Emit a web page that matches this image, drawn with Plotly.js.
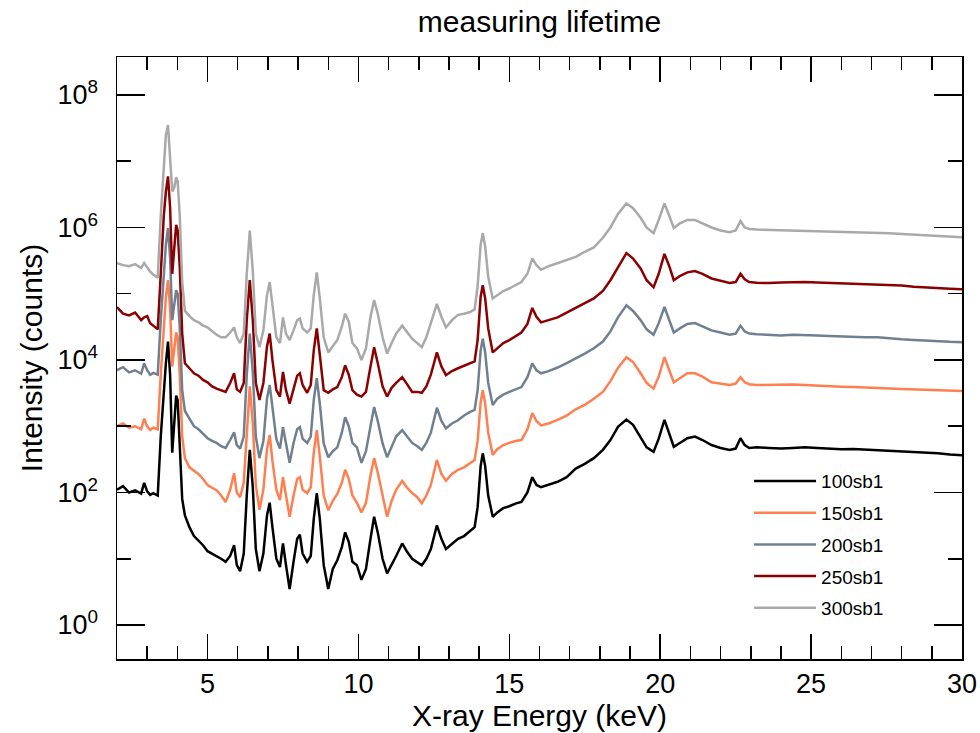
<!DOCTYPE html>
<html>
<head>
<meta charset="utf-8">
<script src="https://cdn.plot.ly/plotly-3.0.1.min.js"></script>
<style>html,body{margin:0;padding:0;background:#fff;}#chart{width:980px;height:733px;}</style>
</head>
<body>
<div id="chart"></div>
<script>
// X-ray energy grid (keV)
const energy = [
  2.0, 2.2, 2.4, 2.6, 2.8, 2.9, 3.0, 3.1, 3.2, 3.35,
  3.45, 3.55, 3.62, 3.69, 3.76, 3.83, 3.9, 3.96, 4.01, 4.08,
  4.16, 4.25, 4.4, 4.55, 4.7, 4.85, 5.0, 5.15, 5.3, 5.45,
  5.6, 5.75, 5.88, 5.97, 6.08, 6.2, 6.3, 6.4, 6.5, 6.6,
  6.72, 6.85, 6.97, 7.06, 7.15, 7.28, 7.4, 7.5, 7.6, 7.72,
  7.85, 7.97, 8.06, 8.15, 8.3, 8.42, 8.52, 8.62, 8.72, 8.85,
  9.0, 9.15, 9.3, 9.45, 9.56, 9.68, 9.8, 9.95, 10.1, 10.25,
  10.4, 10.52, 10.64, 10.8, 10.95, 11.1, 11.25, 11.45, 11.6, 11.78,
  11.95, 12.1, 12.25, 12.4, 12.6, 12.75, 12.9, 13.1, 13.3, 13.5,
  13.7, 13.85, 13.95, 14.05, 14.12, 14.2, 14.3, 14.45, 14.6, 14.8,
  15.0, 15.2, 15.4, 15.6, 15.76, 15.9, 16.05, 16.3, 16.6, 16.9,
  17.2, 17.5, 17.8, 18.1, 18.35, 18.6, 18.88, 19.1, 19.35, 19.55,
  19.78, 19.95, 20.14, 20.3, 20.45, 20.65, 20.9, 21.15, 21.4, 21.7,
  22.0, 22.3, 22.5, 22.66, 22.8, 22.95, 23.2, 23.6, 24.0, 24.4,
  24.8, 25.2, 25.6, 26.0, 26.4, 26.8, 27.2, 27.6, 28.0, 28.4,
  28.8, 29.2, 29.6, 30.0
];

// Intensity (counts) per series
const s100 = [
  110, 125, 100, 108, 96, 140, 104, 92, 98, 90,
  700, 3500, 9000, 19000, 6000, 400, 1200, 2900, 2500, 600,
  80, 45, 30, 22, 19, 16, 13, 12, 11, 10,
  9, 11, 16, 8, 6.5, 12, 90, 440, 120, 14,
  6.5, 12, 45, 70, 30, 10, 7.5, 17, 8, 3.5,
  9, 20, 23, 12, 9, 11, 40, 98, 40, 8,
  3.5, 7, 9.5, 15, 25, 18, 9, 8, 4.8, 7,
  20, 43, 25, 10, 6, 8, 11, 17, 13, 10,
  9, 8, 10, 14, 32, 20, 14, 17, 20, 22,
  26, 30, 60, 250, 390, 250, 90, 43, 50, 58,
  62, 68, 72, 100, 170, 130, 120, 130, 145, 170,
  230, 270, 330, 440, 620, 980, 1260, 1050, 660, 480,
  410, 650, 1250, 800, 490, 560, 660, 700, 620, 520,
  470, 440, 460, 660, 520, 470, 480, 470, 460, 470,
  480, 470, 460, 450, 455, 445, 440, 430, 420, 410,
  400, 390, 375, 365
];
const s150 = [
  1000, 1100, 950, 1000, 900, 1300, 1000, 880, 950, 900,
  6000, 35000, 90000, 160000, 60000, 8000, 15000, 26000, 22000, 6000,
  700, 330, 240, 210, 190, 160, 130, 118, 108, 90,
  72, 110, 195, 100, 85, 140, 900, 4000, 1100, 130,
  55, 110, 450, 740, 300, 110, 77, 170, 90, 43,
  90, 160, 170, 110, 98, 120, 400, 870, 350, 90,
  54, 75, 95, 140, 220, 160, 90, 70, 50, 70,
  180, 330, 200, 90, 43, 75, 110, 150, 120, 98,
  85, 69, 90, 130, 310, 190, 150, 190, 220, 240,
  280, 310, 600, 2300, 3500, 2200, 800, 370, 450, 520,
  560, 600, 620, 900, 1580, 1200, 1030, 1100, 1250, 1450,
  1800, 2100, 2600, 3300, 4800, 7600, 11000, 9300, 6300, 4500,
  3700, 5600, 11000, 7000, 4600, 5300, 6300, 6300, 5600, 4600,
  4400, 4200, 4400, 5500, 4600, 4300, 4200, 4250, 4200, 4250,
  4200, 4150, 4050, 3950, 3900, 3800, 3700, 3700, 3650, 3600,
  3550, 3500, 3450, 3400
];
const s200 = [
  7000, 7800, 6500, 7000, 6200, 8900, 7000, 6000, 6400, 6000,
  40000, 200000, 550000, 980000, 350000, 40000, 70000, 113000, 100000, 30000,
  3500, 1700, 1300, 1000, 900, 760, 660, 600, 560, 500,
  470, 620, 810, 520, 460, 700, 6000, 25000, 6500, 700,
  330, 600, 2600, 4200, 1800, 640, 460, 970, 550, 280,
  560, 900, 970, 650, 560, 700, 2500, 5300, 2200, 550,
  340, 420, 480, 800, 1370, 1000, 560, 480, 280, 420,
  1000, 1950, 1200, 550, 340, 500, 700, 870, 700, 560,
  500, 440, 560, 800, 1900, 1200, 930, 1100, 1230, 1450,
  1650, 1770, 3500, 14000, 21000, 13000, 4500, 2100, 2600, 3000,
  3300, 3600, 3900, 5500, 8900, 7000, 6300, 6800, 7700, 9000,
  10500, 12500, 15000, 19000, 27000, 44000, 67000, 55000, 40000, 29000,
  24000, 36000, 63000, 40000, 26000, 30000, 35000, 36000, 32000, 28000,
  26000, 24000, 25000, 33000, 27000, 25000, 24500, 24000, 23500, 24000,
  24000, 23500, 23000, 22500, 22500, 22000, 22000, 21000, 20500, 20000,
  19500, 19000, 18800, 18600
];
const s250 = [
  63000, 50000, 47000, 52000, 40000, 44000, 46000, 36000, 33000, 29000,
  200000, 1500000, 3500000, 5900000, 2000000, 200000, 500000, 1100000, 900000, 250000,
  25000, 8900, 7500, 6300, 5800, 5000, 4600, 4000, 3700, 3500,
  3300, 4500, 6300, 3600, 3300, 4500, 40000, 160000, 40000, 4500,
  2500, 4500, 16000, 25000, 10000, 3500, 2800, 6600, 3500, 2200,
  3500, 5800, 6300, 4200, 3200, 4200, 14000, 30000, 12000, 3500,
  3200, 3600, 3900, 5500, 8300, 6000, 3500, 3000, 2800, 3300,
  8000, 15600, 9000, 4000, 2800, 3800, 4500, 5500, 4400, 3300,
  3300, 3200, 4000, 6000, 13000, 8000, 5900, 6800, 7500, 8200,
  8900, 9500, 20000, 90000, 134000, 85000, 30000, 13000, 15000, 18000,
  20000, 23000, 26000, 35000, 61000, 45000, 37000, 40000, 44000, 52000,
  61000, 72000, 85000, 110000, 160000, 250000, 410000, 340000, 240000, 160000,
  125000, 200000, 400000, 260000, 160000, 185000, 210000, 220000, 200000, 170000,
  155000, 145000, 150000, 200000, 165000, 150000, 146000, 145000, 148000, 150000,
  150000, 148000, 146000, 145000, 143000, 141000, 140000, 137000, 133000, 128000,
  124000, 121000, 119000, 117000
];
const s300 = [
  290000, 270000, 260000, 280000, 245000, 290000, 250000, 215000, 195000, 175000,
  1500000, 10000000, 25000000, 35000000, 12000000, 3500000, 4000000, 5700000, 5000000, 1500000,
  150000, 55000, 46000, 40000, 37000, 33000, 31000, 27000, 24000, 22000,
  22000, 26000, 31000, 22000, 18000, 25000, 200000, 900000, 220000, 25000,
  15600, 28000, 95000, 150000, 65000, 22000, 18000, 44000, 25000, 20000,
  28000, 40000, 42000, 30000, 26000, 30000, 95000, 210000, 85000, 22000,
  13000, 16000, 20000, 32000, 50000, 38000, 18000, 15000, 10000, 15000,
  45000, 80000, 50000, 22000, 12500, 18000, 25000, 33000, 27000, 21000,
  18000, 15600, 22000, 35000, 70000, 45000, 31000, 40000, 48000, 50000,
  53000, 58000, 130000, 550000, 820000, 520000, 180000, 85000, 95000, 110000,
  120000, 135000, 150000, 200000, 340000, 270000, 230000, 260000, 290000, 320000,
  360000, 430000, 500000, 700000, 1000000, 1600000, 2300000, 1950000, 1400000, 1000000,
  820000, 1300000, 2300000, 1500000, 980000, 1150000, 1300000, 1300000, 1150000, 1000000,
  900000, 850000, 900000, 1250000, 1000000, 950000, 930000, 920000, 910000, 900000,
  900000, 890000, 880000, 870000, 860000, 850000, 840000, 820000, 800000, 780000,
  760000, 740000, 720000, 710000
];

const seriesNames = ['100sb1', '150sb1', '200sb1', '250sb1', '300sb1'];
const seriesColors = ['#000000', '#FF7F50', '#708090', '#8B0000', '#A9A9A9'];
const seriesValues = [s100, s150, s200, s250, s300];

const yTickVals = [1, 1e2, 1e4, 1e6, 1e8];
const yTickText = ['10<sup>0</sup>', '10<sup>2</sup>', '10<sup>4</sup>', '10<sup>6</sup>', '10<sup>8</sup>'];
const yMinorVals = [10, 1e3, 1e5, 1e7];
const xTickVals = [5, 10, 15, 20, 25, 30];

const traces = seriesValues.map((vals, i) => ({
  x: energy, y: vals, type: 'scatter', mode: 'lines',
  name: seriesNames[i], legendgroup: 'g' + i,
  line: {color: seriesColors[i], width: 2.5}
}));

const FONT = 'Liberation Sans, Arial, Helvetica, sans-serif';
const layout = {
  width: 980, height: 733,
  margin: {l: 117, r: 18, t: 57, b: 74},
  paper_bgcolor: '#ffffff', plot_bgcolor: '#ffffff',
  font: {family: FONT, color: '#000', size: 22},
  title: {text: 'measuring lifetime', x: 0.5, xref: 'paper', xanchor: 'center',
          y: 0.970, yref: 'container', yanchor: 'middle', font: {family: FONT, size: 30}},
  showlegend: true,
  legend: {x: 0.748, y: 0.327, xanchor: 'left', yanchor: 'top', font: {family: FONT, size: 19},
           itemwidth: 62, bgcolor: 'rgba(0,0,0,0)', tracegroupgap: 4, traceorder: 'grouped'},
  xaxis: {
    range: [2, 30], showgrid: false, zeroline: false,
    showline: true, linecolor: '#000', linewidth: 1.5, mirror: 'ticks',
    ticks: 'inside', ticklen: 25, tickwidth: 1.5, tickcolor: '#000',
    tickmode: 'array', tickvals: xTickVals,
    tickfont: {family: FONT, size: 27},
    minor: {ticks: 'inside', ticklen: 13, dtick: 1, tick0: 0, tickwidth: 1.5, tickcolor: '#000', showgrid: false},
    title: {text: 'X-ray Energy (keV)', font: {family: FONT, size: 30}, standoff: 4}
  },
  yaxis: {
    type: 'log', range: [-0.513, 8.573], showgrid: false, zeroline: false,
    showline: true, linecolor: '#000', linewidth: 1.5, mirror: 'ticks',
    ticks: 'inside', ticklen: 28, tickwidth: 1.5, tickcolor: '#000',
    tickmode: 'array', tickvals: yTickVals, ticktext: yTickText,
    tickfont: {family: FONT, size: 27}, ticklabelstandoff: 12,
    minor: {ticks: 'inside', ticklen: 14, tickmode: 'array', tickvals: yMinorVals, tickwidth: 1.5, tickcolor: '#000', showgrid: false},
    title: {text: 'Intensity (counts)', font: {family: FONT, size: 30}, standoff: 6}
  }
};

Plotly.newPlot('chart', traces, layout, {staticPlot: true, displayModeBar: false});
</script>
</body>
</html>
